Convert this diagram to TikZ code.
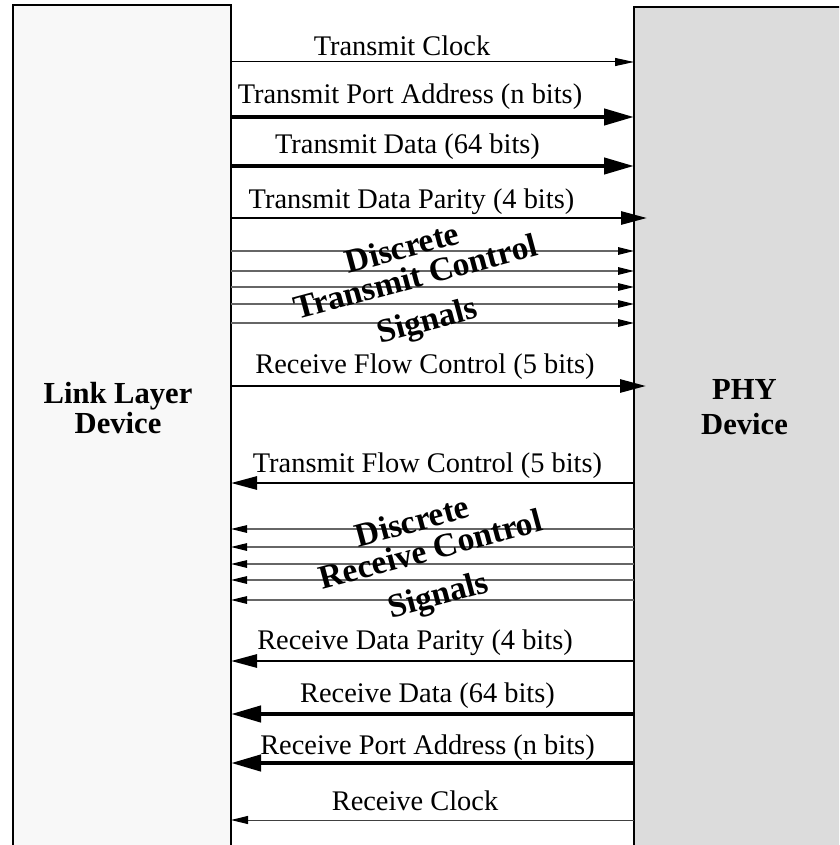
\documentclass[tikz,border=0pt]{standalone}
\usepackage{fontspec}
\setmainfont{Liberation Serif}
\usetikzlibrary{arrows.meta}
\definecolor{linkfill}{HTML}{F8F8F8}
\definecolor{phyfill}{HTML}{DCDCDC}
\begin{document}
\begin{tikzpicture}[x=1pt,y=-1pt,
  box/.style={draw=black, line width=1.5pt, inner sep=0pt, outer sep=0pt, anchor=north west},
  lbl/.style={anchor=base, inner sep=0pt, font=\fontsize{28.4}{30}\selectfont},
  dev/.style={anchor=base, inner sep=0pt, font=\fontsize{30.6}{30}\selectfont\bfseries},
  rot/.style={anchor=base, rotate=15, inner sep=0pt, font=\fontsize{33.5}{36}\selectfont\bfseries},
  thinarr/.style={line width=1pt, -{Triangle[length=19pt,width=8pt]}},
  medarr/.style={line width=2.8pt, -{Triangle[length=26pt,width=13pt]}},
  thickarr/.style={line width=4.3pt, -{Triangle[length=30pt,width=16pt]}},
  ctlarr/.style={line width=1.3pt, draw=black!60, -{Triangle[length=16pt,width=7.5pt,color=black]}},
]
\useasboundingbox (0,0) rectangle (839,845);
\clip (0,0) rectangle (839,845);
% boxes
\node[box, fill=linkfill, minimum width=218pt, minimum height=870pt] (link) at (13,5) {};
\node[box, fill=phyfill, minimum width=230pt, minimum height=870pt] (phy) at (634,7) {};
% device labels
\node[dev] (linkA) at (118,403) {Link Layer};
\node[dev] (linkB) at (118,433.5) {Device};
\node[dev] (phyA) at (744.5,399.5) {PHY};
\node[dev] (phyB) at (744.5,434.5) {Device};
% extended arrow tips
\coordinate (tpEnd) at (647,218);
\coordinate (rfEnd) at (646,386);
% transmit side
\draw[thinarr] (link.east |- 0,62) -- (phy.west |- 0,62);
\draw[thickarr] (link.east |- 0,117) -- (phy.west |- 0,117);
\draw[thickarr] (link.east |- 0,166) -- (phy.west |- 0,166);
\draw[medarr] (link.east |- 0,218) -- (tpEnd);
\foreach \yy in {251,271,287,304,323}
  \draw[ctlarr] (link.east |- 0,\yy) -- (phy.west |- 0,\yy);
\draw[medarr] (link.east |- 0,386) -- (rfEnd);
% receive side
\draw[medarr] (phy.west |- 0,483) -- (link.east |- 0,483);
\foreach \yy in {529,547,564,580,600}
  \draw[ctlarr] (phy.west |- 0,\yy) -- (link.east |- 0,\yy);
\draw[medarr] (phy.west |- 0,661) -- (link.east |- 0,661);
\draw[thickarr] (phy.west |- 0,714) -- (link.east |- 0,714);
\draw[thickarr] (phy.west |- 0,763) -- (link.east |- 0,763);
\draw[thinarr, draw=black!75, -{Triangle[length=17pt,width=8pt,color=black]}] (phy.west |- 0,820) -- (link.east |- 0,820);
% signal labels
\node[lbl] (tclk) at (402,56) {Transmit Clock};
\node[lbl] (tpa) at (410,104) {Transmit Port Address (n bits)};
\node[lbl] (tdat) at (407.5,154) {Transmit Data (64 bits)};
\node[lbl] (tpar) at (411.5,208) {Transmit Data Parity (4 bits)};
\node[lbl] (rfc) at (425,373) {Receive Flow Control (5 bits)};
\node[lbl] (tfc) at (427.5,472) {Transmit Flow Control (5 bits)};
\node[lbl] (rpar) at (415,649) {Receive Data Parity (4 bits)};
\node[lbl] (rdat) at (427.5,702) {Receive Data (64 bits)};
\node[lbl] (rpa) at (427.5,754) {Receive Port Address (n bits)};
\node[lbl] (rclk) at (415,810) {Receive Clock};
% rotated group labels
\node[rot] (tctlA) at (405,258.3) {Discrete};
\node[rot] (tctlB) at (418.3,287.5) {Transmit Control};
\node[rot] (tctlC) at (430,330.5) {Signals};
\node[rot] (rctlA) at (415,532) {Discrete};
\node[rot] (rctlB) at (433.3,560) {Receive Control};
\node[rot] (rctlC) at (440.8,605) {Signals};
\end{tikzpicture}
\end{document}
